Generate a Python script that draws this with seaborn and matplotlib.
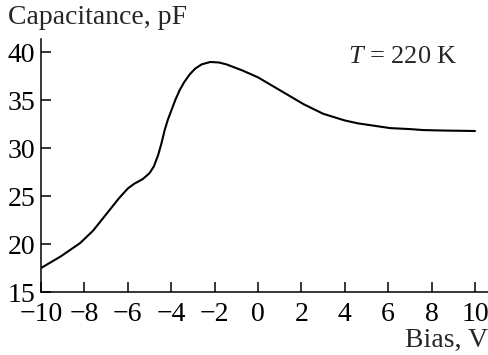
import matplotlib
matplotlib.use("Agg")
import matplotlib.pyplot as plt
import seaborn as sns
import pandas as pd

# Capacitance–voltage curve at T = 220 K
bias_v = [-10.0, -9.1, -8.2, -7.6, -7.0, -6.4, -6.0, -5.7, -5.3, -5.0, -4.8,
          -4.6, -4.45, -4.3, -4.15, -4.0, -3.8, -3.6, -3.4, -3.15, -2.9, -2.6,
          -2.2, -1.8, -1.45, -0.7, 0.0, 0.9, 1.5, 2.1, 3.0, 4.0, 4.6, 5.5, 6.1,
          7.0, 7.6, 8.5, 10.0]
capacitance_pf = [17.5, 18.7, 20.1, 21.4, 23.1, 24.8, 25.8, 26.3, 26.8, 27.4, 28.1,
                  29.3, 30.5, 31.9, 33.0, 33.9, 35.1, 36.1, 36.9, 37.7, 38.3, 38.75,
                  39.0, 38.95, 38.75, 38.1, 37.4, 36.2, 35.4, 34.6, 33.6, 32.9, 32.6,
                  32.3, 32.1, 32.0, 31.9, 31.85, 31.8]
x_ticks = [-10, -8, -6, -4, -2, 0, 2, 4, 6, 8, 10]
y_ticks = [15, 20, 25, 30, 35, 40]

sns.set_theme(style="ticks")
plt.rcParams["font.family"] = ["Liberation Serif", "DejaVu Serif"]
plt.rcParams["mathtext.fontset"] = "custom"
plt.rcParams["mathtext.rm"] = "Liberation Serif"
plt.rcParams["mathtext.it"] = "Liberation Serif:italic"
plt.rcParams["axes.unicode_minus"] = True

df = pd.DataFrame({"bias": bias_v, "cap": capacitance_pf})

W, H = 489, 355
FS = 20
fig = plt.figure(figsize=(W / 100, H / 100), dpi=100)
ax = fig.add_axes([41 / W, 63 / H, 447 / W, 253 / H])

sns.lineplot(data=df, x="bias", y="cap", ax=ax, color="black", linewidth=1.5,
             sort=False)

ax.set_xlim(-10, 10.6)
ax.set_ylim(15, 41.4)
ax.set_xticks(x_ticks)
ax.set_yticks(y_ticks)
ax.set_xlabel("")
ax.set_ylabel("")
for s in ("top", "right"):
    ax.spines[s].set_visible(False)
for s in ("left", "bottom"):
    ax.spines[s].set_linewidth(1.1)
    ax.spines[s].set_color("black")
ax.tick_params(direction="in", length=7.2, width=1.1, labelsize=FS,
               colors="black")
ax.tick_params(axis="y", pad=4)
ax.tick_params(axis="x", pad=7.5)

ax.text(4.15, 39.5, "$T$ = 220 K", fontsize=19, ha="left", va="center")

fig.text(8 / W, 1 - 18 / H, "Capacitance, pF", fontsize=FS, ha="left",
         va="center")
fig.text(488 / W, 1 - 340 / H, "Bias, V", fontsize=FS, ha="right",
         va="center")

fig.savefig("out.png", dpi=100, facecolor="white")
